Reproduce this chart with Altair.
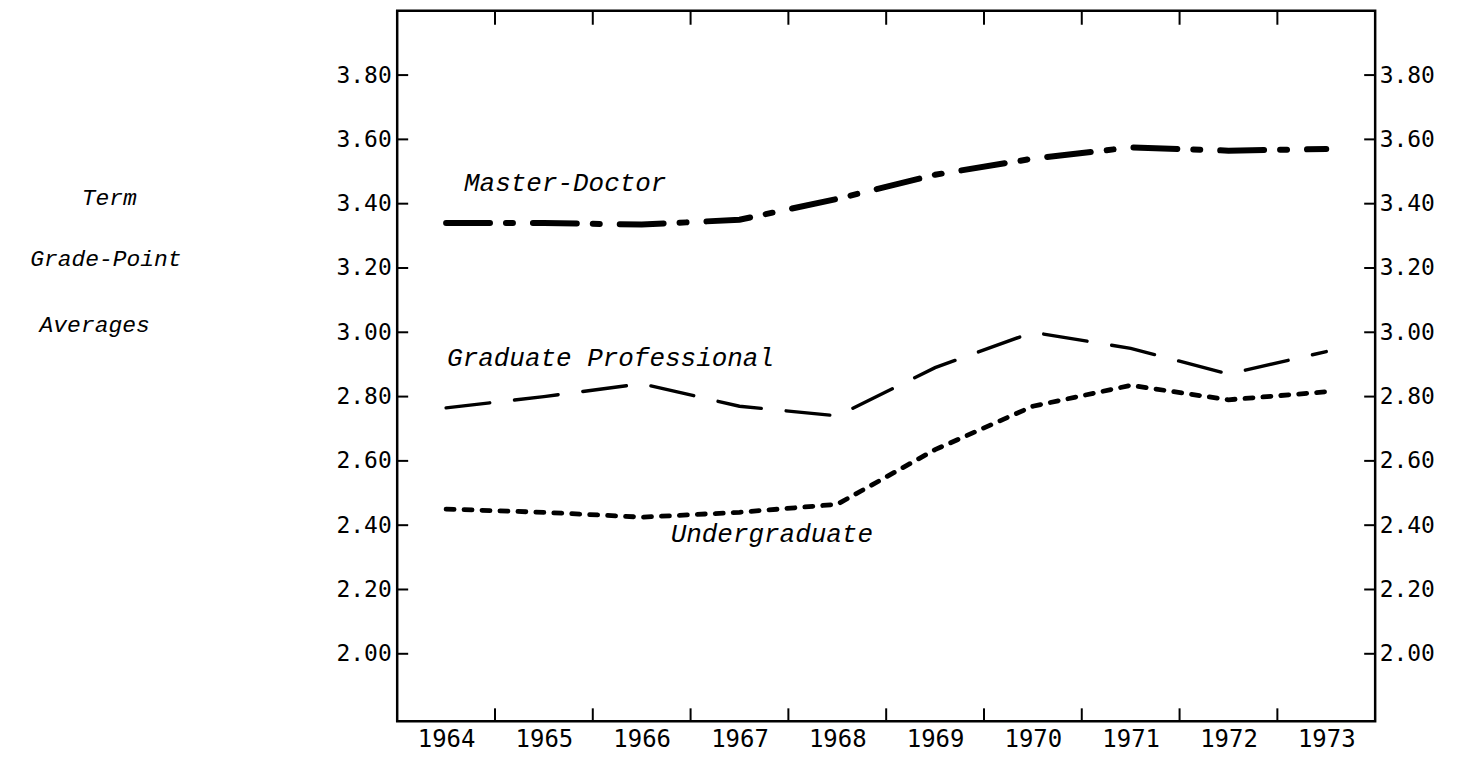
import altair as alt
import pandas as pd

years = [1964, 1965, 1966, 1967, 1968, 1969, 1970, 1971, 1972, 1973]
master_doctor = [3.34, 3.34, 3.335, 3.35, 3.415, 3.49, 3.54, 3.575, 3.565, 3.57]
grad_prof = [2.765, 2.80, 2.84, 2.77, 2.74, 2.89, 3.00, 2.95, 2.87, 2.94]
undergrad = [2.45, 2.44, 2.425, 2.44, 2.465, 2.635, 2.77, 2.835, 2.79, 2.815]

y_tick_values = [2.00, 2.20, 2.40, 2.60, 2.80, 3.00, 3.20, 3.40, 3.60, 3.80]
x_tick_values = [1964.5, 1965.5, 1966.5, 1967.5, 1968.5, 1969.5, 1970.5, 1971.5, 1972.5]

series_labels = ["Master-Doctor", "Graduate Professional", "Undergraduate"]
side_labels = ["Term", "Grade-Point", "Averages"]

W, H = 980, 712
X_DOMAIN = [1963.5, 1973.5]
Y_DOMAIN = [1.79, 4.0]

df = pd.DataFrame({
    "year": years * 3,
    "gpa": master_doctor + grad_prof + undergrad,
    "series": [series_labels[0]] * 10 + [series_labels[1]] * 10 + [series_labels[2]] * 10,
})

xscale = alt.Scale(domain=X_DOMAIN, nice=False, zero=False)
yscale = alt.Scale(domain=Y_DOMAIN, nice=False, zero=False)

x_axis = alt.Axis(values=years, format="d", ticks=False, domain=False, grid=False,
                  labelFont="DejaVu Sans Mono", labelFontSize=24, labelColor="black",
                  labelPadding=6, title=None, labelFlush=False)
y_left = alt.Axis(values=y_tick_values, format=".2f", ticks=False, domain=False, grid=False,
                  labelFont="DejaVu Sans Mono", labelFontSize=23, labelColor="black",
                  labelPadding=6, title=None, orient="left", labelFlush=False)
y_right = alt.Axis(values=y_tick_values, format=".2f", ticks=False, domain=False, grid=False,
                   labelFont="DejaVu Sans Mono", labelFontSize=23, labelColor="black",
                   labelPadding=4, title=None, orient="right", labelFlush=False)

base = alt.Chart(df)

def line(name, dash, width, axis):
    return base.transform_filter(alt.datum.series == name).mark_line(
        color="black", strokeDash=dash, strokeWidth=width, strokeCap="round"
    ).encode(
        x=alt.X("year:Q", scale=xscale, axis=x_axis),
        y=alt.Y("gpa:Q", scale=yscale, axis=axis),
    )

md_line = line(series_labels[0], [44, 16, 7, 20], 6, y_left)
gp_line = line(series_labels[1], [44, 25], 3.4, y_right)
ug_line = line(series_labels[2], [8, 10], 4.8, None)

ytick_df = pd.DataFrame({"v": y_tick_values})
xtick_df = pd.DataFrame({"t": x_tick_values})

left_ticks = alt.Chart(ytick_df).mark_rule(color="black", strokeWidth=2).encode(
    y=alt.Y("v:Q", scale=yscale, axis=None), x=alt.value(0), x2=alt.value(11))
right_ticks = alt.Chart(ytick_df).mark_rule(color="black", strokeWidth=2).encode(
    y=alt.Y("v:Q", scale=yscale, axis=None), x=alt.value(W - 11), x2=alt.value(W))
top_ticks = alt.Chart(xtick_df).mark_rule(color="black", strokeWidth=2).encode(
    x=alt.X("t:Q", scale=xscale, axis=x_axis), y=alt.value(0), y2=alt.value(14))
bottom_ticks = alt.Chart(xtick_df).mark_rule(color="black", strokeWidth=2).encode(
    x=alt.X("t:Q", scale=xscale, axis=x_axis), y=alt.value(H - 13), y2=alt.value(H))

ann_df = pd.DataFrame({"label": series_labels})
def ann(i, px, py):
    return alt.Chart(ann_df).transform_filter(alt.datum.label == series_labels[i]).mark_text(
        font="Liberation Mono", fontStyle="italic", fontSize=26, color="black",
        align="left", baseline="alphabetic"
    ).encode(text="label:N", x=alt.value(px), y=alt.value(py))

side_df = pd.DataFrame({"label": side_labels})
def side(i, px, py):
    return alt.Chart(side_df).transform_filter(alt.datum.label == side_labels[i]).mark_text(
        font="Liberation Mono", fontStyle="italic", fontSize=23, color="black",
        align="right", baseline="alphabetic"
    ).encode(text="label:N", x=alt.value(px), y=alt.value(py))

chart = alt.layer(
    md_line, gp_line, ug_line,
    left_ticks, right_ticks, top_ticks, bottom_ticks,
    ann(0, 67, 181), ann(1, 50, 356), ann(2, 274, 532),
    side(0, 137 - 398, 195), side(1, 182 - 398, 256), side(2, 150 - 398, 322),
).resolve_scale(y="shared", x="shared").resolve_axis(y="independent").properties(
    width=W, height=H,
    background="white",
    autosize=alt.AutoSizeParams(type="none"),
    padding={"left": 390, "top": 2, "right": 80, "bottom": 40},
).configure_view(stroke="black", strokeWidth=2.5)

chart.save("out.html", embed_options={"renderer": "svg", "actions": False})
